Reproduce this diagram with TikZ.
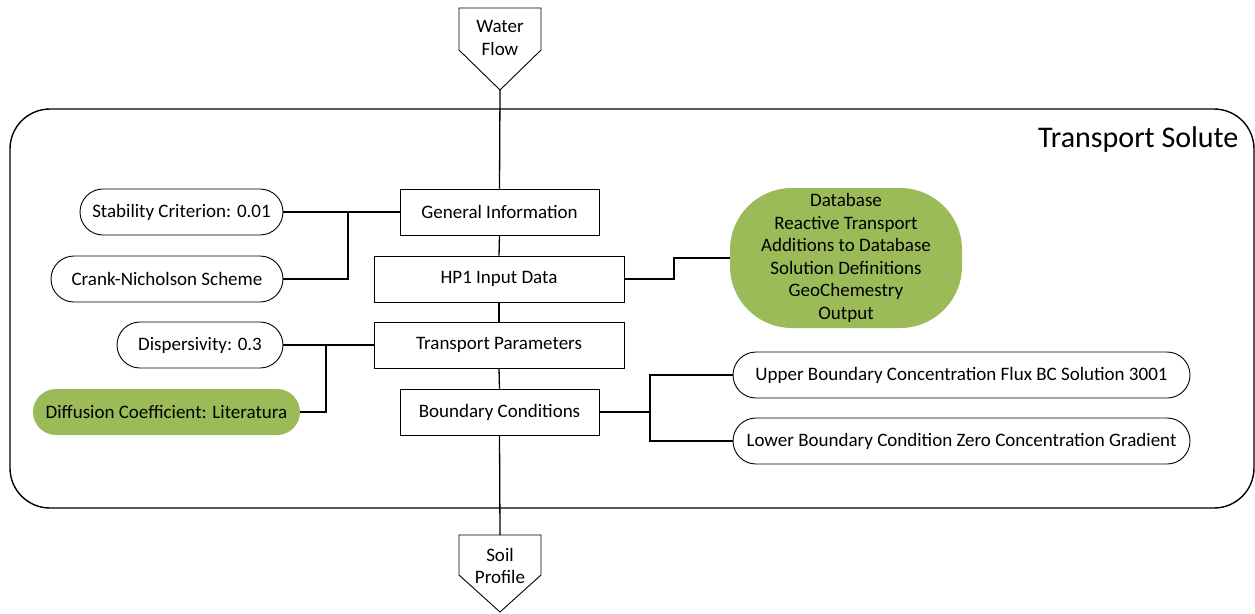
\documentclass[tikz,border=0pt]{standalone}
\usepackage{fontspec}
\setmainfont{Carlito}
\begin{document}
\begin{tikzpicture}[x=1pt,y=-1pt,
  every node/.style={font=\fontsize{19}{22.5}\selectfont},
  boxnode/.style={draw=black,line width=0.9pt,fill=white,rectangle,inner sep=0pt,minimum height=46pt},
  pill/.style={draw=black,line width=0.9pt,fill=white,rectangle,rounded corners=23pt,inner sep=0pt,minimum height=46pt},
  greenpill/.style={pill,draw=none,fill=lgreen},
  conn/.style={line width=1.3pt,draw=black},
]
\definecolor{lgreen}{RGB}{155,187,89}
\useasboundingbox (0,0) rectangle (1255,613);
% container
\draw[line width=1.4pt,rounded corners=40pt] (10,109) rectangle (1254,508);
\node[anchor=east,font=\fontsize{30}{34}\selectfont] (title) at (1242,139) {Transport Solute};
% pentagons
\coordinate (wfTip) at (500,90);
\draw[line width=0.9pt,fill=white] (459,8) -- (541,8) -- (541,50) -- (wfTip) -- (459,50) -- cycle;
\node[align=center] (wf) at (500,38) {Water\\Flow};
\coordinate (spTop) at (500,535);
\draw[line width=0.9pt,fill=white] (459,535) -- (541,535) -- (541,575) -- (500,612) -- (459,575) -- cycle;
\node[align=center] (sp) at (500,566) {Soil\\Profile};
% main boxes
\node[boxnode,minimum width=199pt] (gi) at (499.5,212) {General Information};
\node[boxnode,minimum width=250pt] (hp) at (499,279) {HP1 Input Data};
\node[boxnode,minimum width=250pt] (tp) at (499,345) {Transport Parameters};
\node[boxnode,minimum width=199pt] (bc) at (499.5,412) {Boundary Conditions};
% left pills
\node[pill,minimum width=203pt] (sc) at (181.5,212) {Stability Criterion: 0.01};
\node[pill,minimum width=232pt] (cn) at (167,279) {Crank-Nicholson Scheme};
\node[pill,minimum width=166pt] (dp) at (200,345) {Dispersivity: 0.3};
\node[greenpill,minimum width=267pt] (dc) at (166.5,412) {Diffusion Coefficient: Literatura};
% database
\node[draw=none,fill=lgreen,rectangle,rounded corners=62pt,minimum width=232pt,minimum height=140pt,inner sep=0pt,align=center] (db) at (846,258) {Database\\Reactive Transport\\Additions to Database\\Solution Definitions\\GeoChemestry\\Output};
% right pills
\node[pill,minimum width=457pt] (ub) at (961.5,375) {Upper Boundary Concentration Flux BC Solution 3001};
\node[pill,minimum width=457pt] (lb) at (961.5,441) {Lower Boundary Condition Zero Concentration Gradient};
% spine
\draw[conn] (wfTip) -- (gi.north);
\draw[conn] (gi.south) -- (hp.north);
\draw[conn] (hp.south) -- (tp.north);
\draw[conn] (tp.south) -- (bc.north);
\draw[conn] (bc.south) -- (spTop);
% left connectors
\draw[conn] (sc.east) -- (gi.west);
\draw[conn] (cn.east) -| (348,212);
\draw[conn] (dp.east) -- (tp.west);
\draw[conn] (dc.east) -| (326,345);
% database connector
\draw[conn] (hp.east) -- (674,279) |- (db.west);
% boundary connectors
\draw[conn] (bc.east) -- (650,412);
\draw[conn] (ub.west) -| (650,412) |- (lb.west);
\end{tikzpicture}
\end{document}
